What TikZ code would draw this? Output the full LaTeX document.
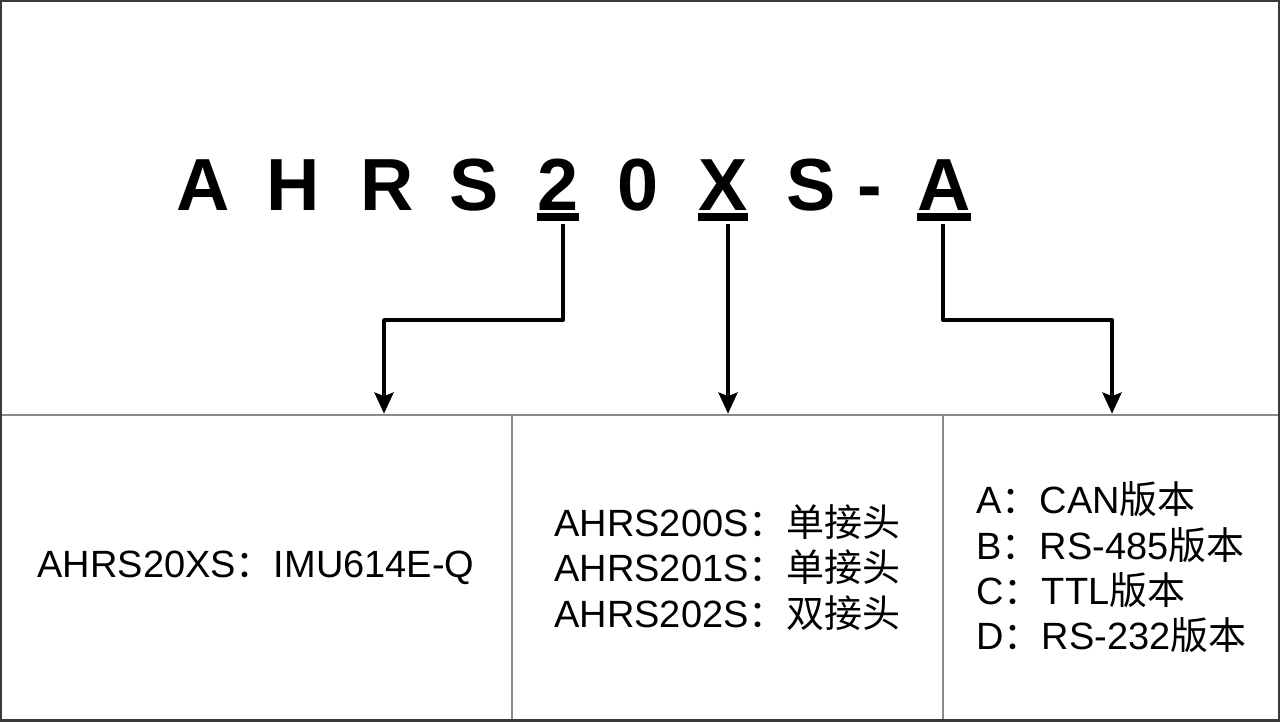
\documentclass[tikz,border=0pt]{standalone}
\usepackage{fontspec}
\setmainfont{Liberation Sans}
\newfontfamily\cjk{Noto Sans CJK SC}
\usetikzlibrary{calc, positioning}
\usetikzlibrary{arrows.meta}
\definecolor{edgegray}{HTML}{3A3A3A}
\definecolor{cellgray}{HTML}{8A8A8A}
\newcommand{\zh}[1]{{\cjk #1}}

\begin{document}
\begin{tikzpicture}[x=0.01cm, y=-0.01cm, line join=round,
  code/.style={font=\fontsize{21}{25}\selectfont\bfseries, inner sep=0pt, anchor=base},
  cell/.style={draw=cellgray, line width=0.7pt, inner sep=0pt, align=left,
    minimum height=3.05cm, font=\fontsize{10.8}{12.9}\selectfont},
  pick/.style={line width=1.1pt, -{Stealth[length=6pt, width=5.4pt, inset=1pt]}},
  bar/.style={line width=2pt}]
\useasboundingbox (0,0) rectangle (1280,721);

% Model code, one letter at a time
\foreach \ch/\px/\nm in {A/203/cA, H/293/cH, R/387/cR, S/474/cS, 2/558/cTwo,
    0/638/cZero, X/723/cX, S/811/cSb, -/870/cDash, A/944/cAb}
  \node[code] (\nm) at (\px,210) {\ch};

% Underlined positions
\foreach \nm in {cTwo, cX, cAb}
  \draw[bar] ($(\nm.base west)+(0,7)$) -- ($(\nm.base east)+(0,7)$);

% Option cells
\node[cell, minimum width=5.12cm] (imu) at (256,567.5)
  {AHRS20XS\zh{：}IMU614E-Q};
\node[cell, minimum width=4.31cm] (plug) at (727.5,567.5)
  {AHRS200S\zh{：单接头}\\AHRS201S\zh{：单接头}\\AHRS202S\zh{：双接头}};
\node[cell, minimum width=3.37cm] (bus) at (1111.5,567.5)
  {A\zh{：}CAN\zh{版本}\\B\zh{：}RS-485\zh{版本}\\C\zh{：}TTL\zh{版本}\\D\zh{：}RS-232\zh{版本}};

% Outer frame
\draw[edgegray, line width=1pt] (0,0) rectangle (1280,721);

% Bends of the connectors
\coordinate (kImu) at (384,320);
\coordinate (kPlug) at (728,320);
\coordinate (kBus) at (1112,320);

\draw[pick] ($(cTwo.base)+(5,14)$) |- (kImu) -- (kImu |- imu.north);
\draw[pick] ($(cX.base)+(5,14)$) -- (kPlug) -- (kPlug |- plug.north);
\draw[pick] ($(cAb.base)+(-1,14)$) |- (kBus) -- (kBus |- bus.north);
\end{tikzpicture}
\end{document}
